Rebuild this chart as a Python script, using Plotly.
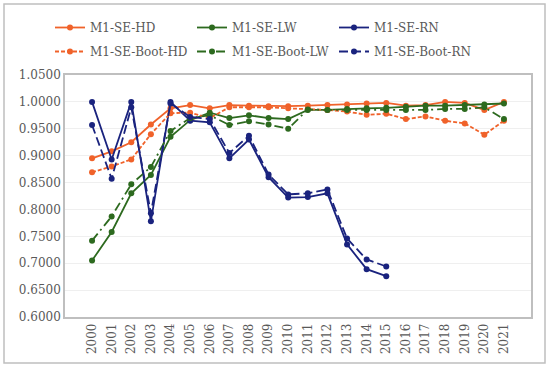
import plotly.graph_objects as go

years = [str(y) for y in range(2000, 2022)]

hd = [0.895, 0.908, 0.925, 0.958, 0.988, 0.994, 0.988, 0.994, 0.993, 0.992, 0.992,
      0.993, 0.994, 0.995, 0.997, 0.998, 0.993, 0.994, 1.000, 0.998, 0.985, 1.000]
lw = [0.705, 0.758, 0.830, 0.864, 0.935, 0.966, 0.980, 0.970, 0.975, 0.970, 0.968,
      0.985, 0.985, 0.987, 0.988, 0.989, 0.991, 0.993, 0.993, 0.994, 0.995, 0.997]
rn = [1.000, 0.893, 1.000, 0.778, 1.000, 0.965, 0.962, 0.895, 0.930, 0.860, 0.822,
      0.823, 0.830, 0.735, 0.689, 0.676]
boot_hd = [0.869, 0.880, 0.893, 0.940, 0.979, 0.980, 0.970, 0.990, 0.990, 0.990, 0.988,
           0.987, 0.985, 0.982, 0.976, 0.978, 0.968, 0.973, 0.965, 0.960, 0.939, 0.965]
boot_lw = [0.742, 0.787, 0.847, 0.879, 0.946, 0.970, 0.975, 0.957, 0.964, 0.958, 0.950,
           0.986, 0.985, 0.985, 0.985, 0.985, 0.985, 0.985, 0.987, 0.987, 0.990, 0.968]
boot_rn = [0.957, 0.857, 0.990, 0.793, 0.997, 0.972, 0.968, 0.905, 0.937, 0.865, 0.828,
           0.830, 0.837, 0.746, 0.707, 0.694]

yticks = [0.60 + 0.05 * i for i in range(10)]
ytick_text = ["%.4f" % v for v in yticks]

ORANGE = "#F0622A"
GREEN = "#2D6A1F"
NAVY = "#1A237E"

series = [
    ("M1-SE-HD", hd, ORANGE, "solid", "legend"),
    ("M1-SE-LW", lw, GREEN, "solid", "legend"),
    ("M1-SE-RN", rn, NAVY, "solid", "legend"),
    ("M1-SE-Boot-HD", boot_hd, ORANGE, "4px,2px", "legend2"),
    ("M1-SE-Boot-LW", boot_lw, GREEN, "9px,4px,2px,4px", "legend2"),
    ("M1-SE-Boot-RN", boot_rn, NAVY, "9px,4px", "legend2"),
]

SERIF = "DejaVu Serif"

fig = go.Figure()
for name, vals, col, dash, lg in series:
    fig.add_trace(go.Scatter(
        x=years[:len(vals)], y=vals, name=name, mode="lines+markers", legend=lg,
        line=dict(color=col, width=1.8, dash=dash),
        marker=dict(color=col, size=6, symbol="circle"),
    ))

L, R, T, B = 65, 19, 75, 50
W, H = 550, 367
pw, ph = W - L - R, H - T - B

leg_common = dict(orientation="h", x=(50 - L) / pw, xanchor="left", yanchor="top",
                  entrywidth=97, entrywidthmode="pixels", itemwidth=30,
                  font=dict(family=SERIF, size=12, color="#595959"),
                  bgcolor="rgba(0,0,0,0)")

fig.update_layout(
    width=W, height=H,
    margin=dict(l=L, r=R, t=T, b=B, autoexpand=False),
    paper_bgcolor="white", plot_bgcolor="white",
    font=dict(family=SERIF, size=12, color="#595959"),
    legend=dict(y=1 + (T - 13) / ph, **leg_common),
    legend2=dict(y=1 + (T - 37) / ph, **leg_common),
    showlegend=True,
    shapes=[dict(type="rect", xref="paper", yref="paper",
                 x0=(4 - L) / pw, x1=(545 - L) / pw,
                 y0=-(363 - T - ph) / ph, y1=1 + (T - 4) / ph,
                 line=dict(color="#BFBFBF", width=1.5), fillcolor="rgba(0,0,0,0)",
                 layer="below")],
)
fig.update_xaxes(type="category", tickangle=-90, showgrid=False, automargin=False,
                 showline=True, linecolor="#BFBFBF", linewidth=1.5, mirror=True,
                 ticks="", tickfont=dict(family=SERIF, size=12, color="#595959"))
fig.update_yaxes(range=[0.6, 1.05], tickvals=yticks, ticktext=ytick_text, automargin=False,
                 showgrid=True, gridcolor="#EFEFEF", gridwidth=1,
                 showline=True, linecolor="#BFBFBF", linewidth=1.5, mirror=True,
                 ticks="", zeroline=False, tickfont=dict(family=SERIF, size=12, color="#595959"))

fig.write_html("out.html", config={"displayModeBar": False},
               post_script="document.body.style.margin='0';")
